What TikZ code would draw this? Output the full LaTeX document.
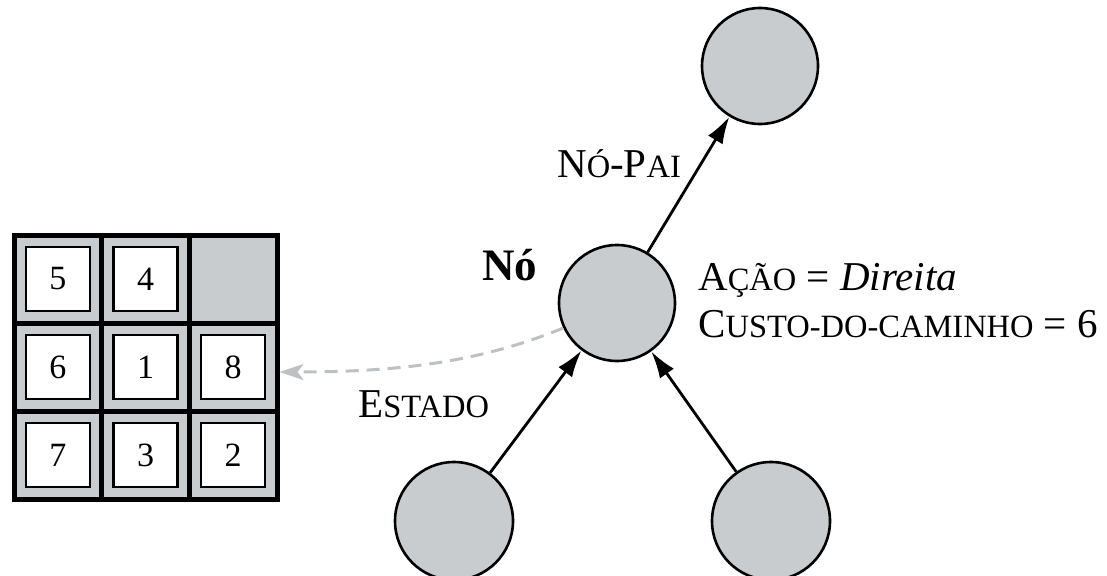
\documentclass[tikz,border=0pt]{standalone}
\usepackage{fontspec}
\setmainfont{Liberation Serif}
\usetikzlibrary{arrows.meta}
\definecolor{fillgray}{RGB}{200,204,206}
\definecolor{dashgray}{RGB}{190,193,195}
\newcommand\smc[1]{{\fontsize{32.5pt}{33pt}\selectfont #1}}
\begin{document}
\begin{tikzpicture}[x=1pt,y=-1pt,
  statenode/.style={circle, draw, fill=fillgray, line width=2.6pt, minimum size=116pt, inner sep=0pt},
  edge/.style={line width=2.8pt, -{Latex[length=27pt,width=17pt]}},
  dasharrow/.style={dashgray, line width=3pt, dash pattern=on 13pt off 8pt, -{Stealth[length=24pt,width=16pt,inset=6pt]}},
  label/.style={anchor=base west, inner sep=0pt, font=\fontsize{41pt}{41pt}\selectfont},
  tile/.style={draw, fill=white, line width=2.2pt, minimum size=64pt, inner sep=0pt, font=\fontsize{34pt}{34pt}\selectfont},
  board/.style={draw, fill=fillgray, line width=5pt, minimum width=263pt, minimum height=264pt, inner sep=0pt}
]
\useasboundingbox (0,0) rectangle (1107,575);

% 8-puzzle board
\node[board] (board) at (145.5,367) {};
\node[tile] (t5) at (57.8,279) {5};
\node[tile] (t4) at (145.5,279) {4};
\node[tile] (t6) at (57.8,367) {6};
\node[tile] (t1) at (145.5,367) {1};
\node[tile] (t8) at (233.2,367) {8};
\node[tile] (t7) at (57.8,455) {7};
\node[tile] (t3) at (145.5,455) {3};
\node[tile] (t2) at (233.2,455) {2};
\draw[line width=5pt] (101.7,235) -- (101.7,499);
\draw[line width=5pt] (189.3,235) -- (189.3,499);
\draw[line width=5pt] (14,323) -- (277,323);
\draw[line width=5pt] (14,411) -- (277,411);

% tree nodes
\node[statenode] (top) at (760,66) {};
\node[statenode] (mid) at (617,303) {};
\node[statenode, minimum size=118pt] (bl) at (454,521) {};
\node[statenode, minimum size=118pt] (br) at (771,521) {};

\draw[edge] (mid) -- (top);
\draw[edge] (bl) -- (mid);
\draw[edge] (br) -- (mid);

\coordinate (stateend) at ([yshift=-5pt]board.east);
\draw[dasharrow] (mid.205) .. controls (480,362) and (400,372) .. (stateend);

% labels
\node[label] (lpai) at (557,177) {N\smc{Ó}-P\smc{AI}};
\node[label, font=\fontsize{45pt}{45pt}\selectfont\bfseries] (lno) at (482,280) {Nó};
\node[label] (lacao) at (698,290) {A\smc{ÇÃO} = \textit{Direita}};
\node[label] (lcusto) at (698,337) {C\smc{USTO-DO-CAMINHO} = 6};
\node[label] (lestado) at (358,417) {E\smc{STADO}};
\end{tikzpicture}
\end{document}
